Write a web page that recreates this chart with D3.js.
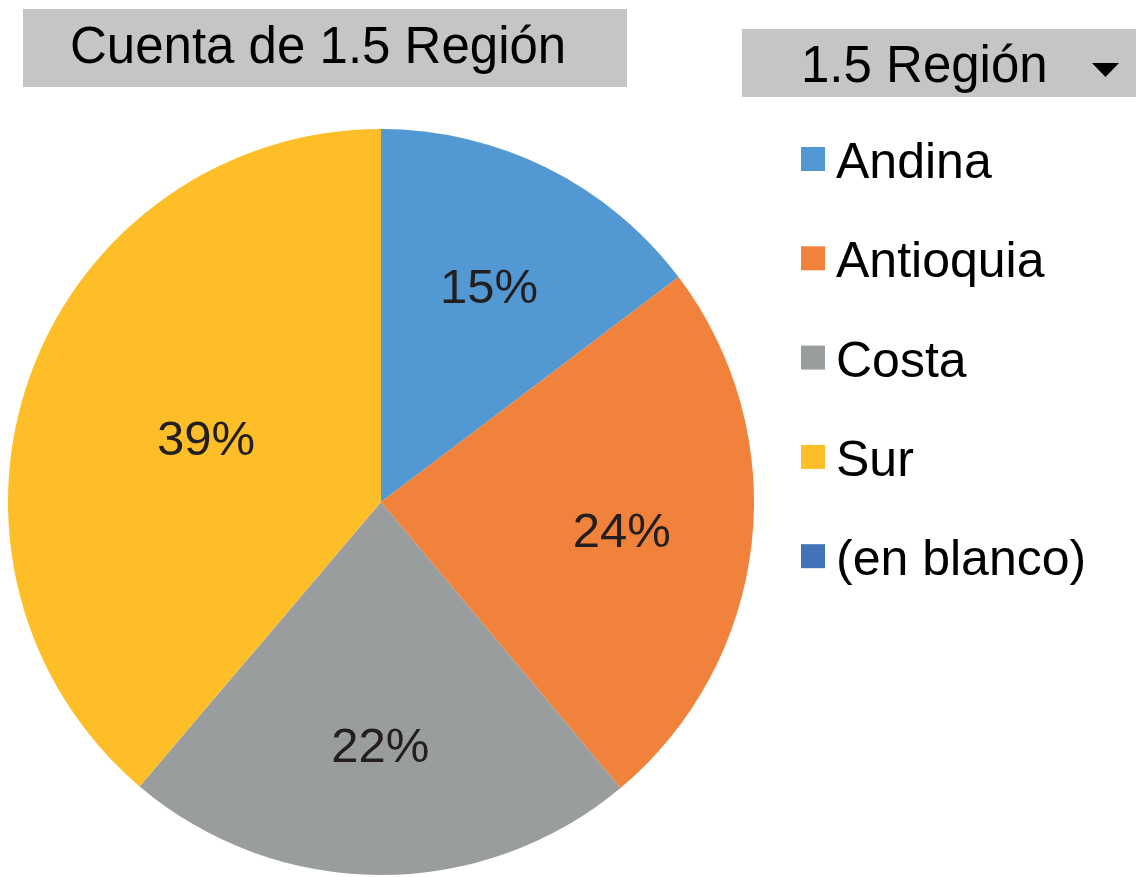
<!DOCTYPE html>
<html>
<head>
<meta charset="utf-8">
<script src="https://cdn.jsdelivr.net/npm/d3@7"></script>
<style>
  body { margin: 0; background: #fff; }
  text { font-family: "Liberation Sans", Arial, sans-serif; }
</style>
</head>
<body>
<svg id="chart"></svg>
<script>
// data
var regions = ["Andina", "Antioquia", "Costa", "Sur", "(en blanco)"];
var counts = [14.7, 24.2, 22.3, 38.8, 0];
var colors = ["#5299D3", "#F1823B", "#9A9D9E", "#FDBE28", "#4272B8"];

var width = 1136, height = 877;

var svg = d3.select("#chart")
  .attr("width", width)
  .attr("height", height);

var data = regions.map(function(r, i) { return {region: r, count: counts[i]}; });
var total = d3.sum(counts);

// pie
var radius = 373;
var g = svg.append("g")
  .attr("transform", "translate(381,502)");

var pie = d3.pie()
  .sort(null)
  .value(function(d) { return d.count; });

var arc = d3.arc().innerRadius(0).outerRadius(radius);

var color = d3.scaleOrdinal().domain(regions).range(colors);

var arcs = pie(data);

g.selectAll("path.slice")
  .data(arcs)
  .enter().append("path")
  .attr("class", "slice")
  .attr("d", arc)
  .attr("fill", function(d) { return color(d.data.region); });

// labels (Excel "best fit" puts the big slice label nearer the middle)
var labelFactor = function(d) { return d.data.region == "Sur" ? 0.5 : 0.65; };

g.selectAll("text.pct")
  .data(arcs.filter(function(d) { return d.data.count > 0; }))
  .enter().append("text")
  .attr("class", "pct")
  .attr("transform", function(d) {
    var r = radius * labelFactor(d);
    var c = d3.arc().innerRadius(r).outerRadius(r).centroid(d);
    return "translate(" + c[0] + "," + c[1] + ")";
  })
  .attr("text-anchor", "middle")
  .attr("dy", "0.36em")
  .attr("font-size", 49)
  .attr("fill", "#231F20")
  .text(function(d) { return d3.format(".0%")(d.data.count / total); });

// title button
svg.append("rect")
  .attr("x", 23).attr("y", 9)
  .attr("width", 604).attr("height", 78)
  .attr("fill", "#C4C5C4");
svg.append("text")
  .attr("x", 70).attr("y", 63)
  .attr("font-size", 51)
  .attr("fill", "#000")
  .text("Cuenta de 1.5 Región");

// legend header button
svg.append("rect")
  .attr("x", 742).attr("y", 29)
  .attr("width", 400).attr("height", 68)
  .attr("fill", "#C4C5C4");
svg.append("text")
  .attr("x", 801).attr("y", 82)
  .attr("font-size", 51)
  .attr("fill", "#000")
  .text("1.5 Región");
svg.append("path")
  .attr("d", "M1092,63 L1119,63 L1105.5,77 Z")
  .attr("fill", "#000");

// legend
var legend = svg.append("g")
  .attr("transform", "translate(801,147)");

var item = legend.selectAll("g.item")
  .data(regions)
  .enter().append("g")
  .attr("class", "item")
  .attr("transform", function(d, i) { return "translate(0," + (i * 99.3) + ")"; });

item.append("rect")
  .attr("width", 24).attr("height", 24)
  .attr("fill", function(d) { return color(d); });

item.append("text")
  .attr("x", 35).attr("y", 31)
  .attr("font-size", 50)
  .attr("fill", "#000")
  .text(function(d) { return d; });
</script>
</body>
</html>
